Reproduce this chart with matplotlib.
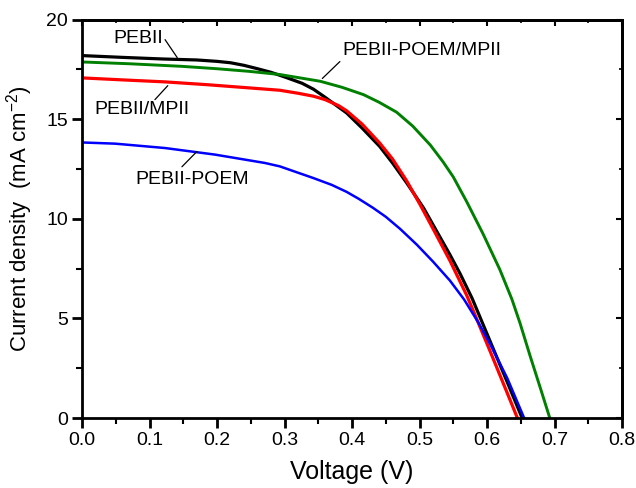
import matplotlib
matplotlib.use("Agg")
import matplotlib.pyplot as plt
from matplotlib.ticker import MultipleLocator

plt.rcParams['font.family'] = ['Liberation Sans', 'DejaVu Sans']
plt.rcParams['mathtext.fontset'] = 'custom'
plt.rcParams['mathtext.rm'] = 'Liberation Sans'

# PEBII (black)
v_pebii = [0.0, 0.06, 0.119, 0.17, 0.2, 0.22, 0.24, 0.26, 0.28, 0.3, 0.326, 0.343, 0.36, 0.392, 0.415,
           0.441, 0.46, 0.481, 0.506, 0.52, 0.545, 0.56, 0.578, 0.604, 0.63, 0.652]
j_pebii = [18.19, 18.1, 18.02, 17.97, 17.9, 17.83, 17.7, 17.53, 17.35, 17.12, 16.8, 16.5, 16.1, 15.31, 14.55,
           13.63, 12.8, 11.8, 10.54, 9.7, 8.2, 7.25, 6.0, 3.9, 1.8, 0.0]

# PEBII/MPII (red)
v_mpii = [0.0, 0.06, 0.123, 0.185, 0.247, 0.293, 0.32, 0.343, 0.36, 0.38, 0.392, 0.415, 0.441, 0.46, 0.481,
          0.501, 0.52, 0.545, 0.57, 0.58, 0.604, 0.63, 0.645]
j_mpii = [17.07, 16.97, 16.87, 16.73, 16.57, 16.45, 16.3, 16.15, 15.98, 15.68, 15.42, 14.75, 13.8, 13.0, 11.9,
          10.7, 9.5, 7.9, 6.15, 5.35, 3.4, 1.25, 0.0]

# PEBII-POEM (blue)
v_poem = [0.0, 0.049, 0.123, 0.197, 0.271, 0.293, 0.343, 0.37, 0.392, 0.41, 0.431, 0.45, 0.471, 0.496,
          0.52, 0.545, 0.566, 0.587, 0.604, 0.63, 0.655]
j_poem = [13.83, 13.77, 13.55, 13.22, 12.8, 12.63, 12.04, 11.7, 11.35, 11.0, 10.55, 10.1, 9.5, 8.7,
          7.85, 6.9, 5.95, 4.8, 3.75, 2.0, 0.0]

# PEBII-POEM/MPII (green)
v_poem_mpii = [0.0, 0.07, 0.148, 0.2, 0.247, 0.293, 0.353, 0.385, 0.417, 0.44, 0.466, 0.49, 0.516,
               0.535, 0.55, 0.57, 0.594, 0.619, 0.637, 0.649, 0.664, 0.68, 0.693]
j_poem_mpii = [17.87, 17.78, 17.65, 17.53, 17.4, 17.24, 16.9, 16.6, 16.23, 15.85, 15.35, 14.65, 13.7,
               12.85, 12.1, 10.85, 9.25, 7.45, 5.95, 4.75, 3.1, 1.4, 0.0]

labels = ["PEBII", "PEBII/MPII", "PEBII-POEM", "PEBII-POEM/MPII"]
x_ticks = [0.0, 0.1, 0.2, 0.3, 0.4, 0.5, 0.6, 0.7, 0.8]
y_ticks = [0, 5, 10, 15, 20]

fig = plt.figure(figsize=(6.36, 4.88), dpi=100)
ax = fig.add_axes([0.129, 0.1434, 0.849, 0.8166])

ax.plot(v_pebii, j_pebii, color='black', lw=2.3, solid_joinstyle='round')
ax.plot(v_mpii, j_mpii, color='#ff0000', lw=2.3, solid_joinstyle='round')
ax.plot(v_poem, j_poem, color='#0000ff', lw=1.8, solid_joinstyle='round')
ax.plot(v_poem_mpii, j_poem_mpii, color='#008000', lw=2.1, solid_joinstyle='round')

ax.set_xlim(0, 0.8)
ax.set_ylim(0, 20)
ax.set_xticks(x_ticks)
ax.set_xticklabels([f"{t:.1f}" for t in x_ticks])
ax.set_yticks(y_ticks)
ax.xaxis.set_minor_locator(MultipleLocator(0.05))
ax.yaxis.set_minor_locator(MultipleLocator(2.5))

for s in ax.spines.values():
    s.set_linewidth(2.0)

ax.tick_params(which='major', direction='out', length=7, width=2, labelsize=14, pad=3)
ax.tick_params(which='minor', direction='out', length=4, width=1.5)

# inward ticks on top and right
secx = ax.secondary_xaxis('top')
secx.set_xticks(x_ticks)
secx.xaxis.set_minor_locator(MultipleLocator(0.05))
secx.tick_params(which='major', direction='in', length=4, width=1.5, labeltop=False)
secx.tick_params(which='minor', direction='in', length=2.5, width=1.2)
secx.spines['top'].set_linewidth(2.0)
secy = ax.secondary_yaxis('right')
secy.set_yticks(y_ticks)
secy.yaxis.set_minor_locator(MultipleLocator(2.5))
secy.tick_params(which='major', direction='in', length=4, width=1.5, labelright=False)
secy.tick_params(which='minor', direction='in', length=2.5, width=1.2)
secy.spines['right'].set_linewidth(2.0)

ax.set_xlabel("Voltage (V)", fontsize=18, labelpad=8)
ax.set_ylabel(r"Current density  (mA cm$^{-2}$)", fontsize=16, labelpad=8)

# labels with leader lines
text_pos = [(0.046, 19.07), (0.019, 15.5), (0.0785, 11.98), (0.385, 18.44)]
lead_from = [(0.123, 18.99), (0.108, 15.98), (0.148, 12.61), (0.382, 17.89)]
lead_to = [(0.141, 18.09), (0.127, 16.68), (0.170, 13.37), (0.356, 17.04)]
for lab, tp, lf, lt in zip(labels, text_pos, lead_from, lead_to):
    ax.text(tp[0], tp[1], lab, fontsize=14, ha='left', va='center')
    ax.annotate('', xy=lt, xytext=lf,
                arrowprops=dict(arrowstyle='-', color='black', lw=0.9, shrinkA=0, shrinkB=0))

fig.savefig("out.png", dpi=100)
